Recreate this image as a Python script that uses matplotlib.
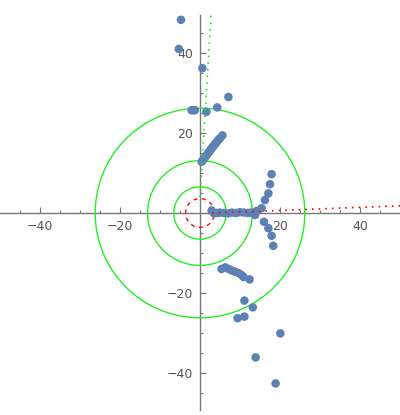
import numpy as np
import matplotlib
matplotlib.use("Agg")
import matplotlib.pyplot as plt
from matplotlib.ticker import FixedLocator

# ---- data ----
pts_x = [-4.75, -5.3, 0.6, 7.1, 4.3, 1.6, -2.1, -1.3, -1.7,
         # diagonal upper branch
         0.4, 0.7, 1.0, 1.3, 1.6, 1.9, 2.2, 2.5, 2.8, 3.1, 3.4, 3.7, 4.0, 4.3, 4.6, 5.0, 5.6,
         # central horizontal branch
         2.9, 3.5, 4.2, 5.0, 6.0, 7.0, 8.0, 9.0, 10.0, 11.0, 12.0, 12.8, 13.3, 13.75,
         # right arms
         14.2, 15.4, 16.25, 17.1, 17.5, 17.9, 16.0, 17.1, 17.9, 18.3,
         # lower branch
         5.4, 6.3, 7.2, 8.0, 8.8, 9.6, 10.4, 10.9, 12.4,
         11.1, 13.2, 9.4, 11.1, 20.1, 13.9, 18.9]
pts_y = [48.3, 41.0, 36.2, 29.0, 26.4, 25.3, 25.7, 25.7, 25.7,
         12.8, 13.2, 13.6, 14.0, 14.4, 14.8, 15.2, 15.6, 16.0, 16.4, 16.8, 17.2, 17.5, 17.9, 18.3, 18.7, 19.4,
         0.6, -0.1, 0.0, 0.1, 0.0, -0.1, 0.1, 0.0, 0.2, 0.1, 0.0, 0.1, 0.0, -0.5,
         0.5, 1.2, 3.25, 4.9, 7.2, 9.7, -2.2, -3.8, -5.7, -8.2,
         -14.0, -13.6, -14.0, -14.4, -14.7, -15.0, -15.5, -16.0, -16.6,
         -21.9, -23.6, -26.3, -25.9, -30.1, -36.1, -42.6]

green_radii = [6.55, 13.1, 26.2]
red_radius = 3.6

red_line_x = [3.0, 50.0]
red_line_y = [0.0, 1.8]
green_line_x = [0.0, 2.8]
green_line_y = [4.0, 50.0]

x_major = [-40, -20, 20, 40]
y_major = [-40, -20, 20, 40]

# ---- figure ----
fig = plt.figure(figsize=(4.0, 4.15), dpi=100)
ax = fig.add_axes([0, 0, 1, 1])
ax.set_xlim(-50, 50)
ax.set_ylim(-50.5, 53.25)
ax.set_aspect('auto')

t = np.linspace(0, 2 * np.pi, 400)
for r in green_radii:
    ax.plot(r * np.cos(t), r * np.sin(t), color='#22ee22', lw=1.0, zorder=2)
ax.plot(red_radius * np.cos(t), red_radius * np.sin(t), color='#ee1111', lw=1.0,
        ls=(0, (3, 3)), zorder=2)

ax.scatter(pts_x, pts_y, s=38, color='#5E81B5', edgecolors='none', zorder=3)

ax.plot(red_line_x, red_line_y, color='#ff0000', lw=1.2, ls=(0, (1, 3)), zorder=4)
ax.plot(green_line_x, green_line_y, color='#11ee11', lw=1.2, ls=(0, (1, 3)), zorder=4)

# axes through origin
for s in ['top', 'right']:
    ax.spines[s].set_visible(False)
ax.spines['left'].set_position(('data', 0))
ax.spines['bottom'].set_position(('data', 0))
ax.spines['left'].set_bounds(-49.3, 49.5)
ax.spines['bottom'].set_bounds(-50, 50)
for s in ['left', 'bottom']:
    ax.spines[s].set_color('#777777')
    ax.spines[s].set_linewidth(1.0)
    ax.spines[s].set_zorder(1)

minor = [v for v in range(-45, 50, 5) if v not in (-40, -20, 0, 20, 40)]
ax.xaxis.set_major_locator(FixedLocator(x_major))
ax.yaxis.set_major_locator(FixedLocator(y_major))
ax.xaxis.set_minor_locator(FixedLocator(minor))
ax.yaxis.set_minor_locator(FixedLocator(minor))
ax.set_xticklabels(['\u221240', '\u221220', '20', '40'])
ax.set_yticklabels(['\u221240', '\u221220', '20', '40'])
ax.tick_params(which='both', direction='in', color='#777777', width=0.8)
ax.tick_params(which='major', length=4.5, labelsize=9, labelcolor='#555555', pad=5)
ax.tick_params(which='minor', length=2.5)

fig.savefig('out.png', dpi=100)
